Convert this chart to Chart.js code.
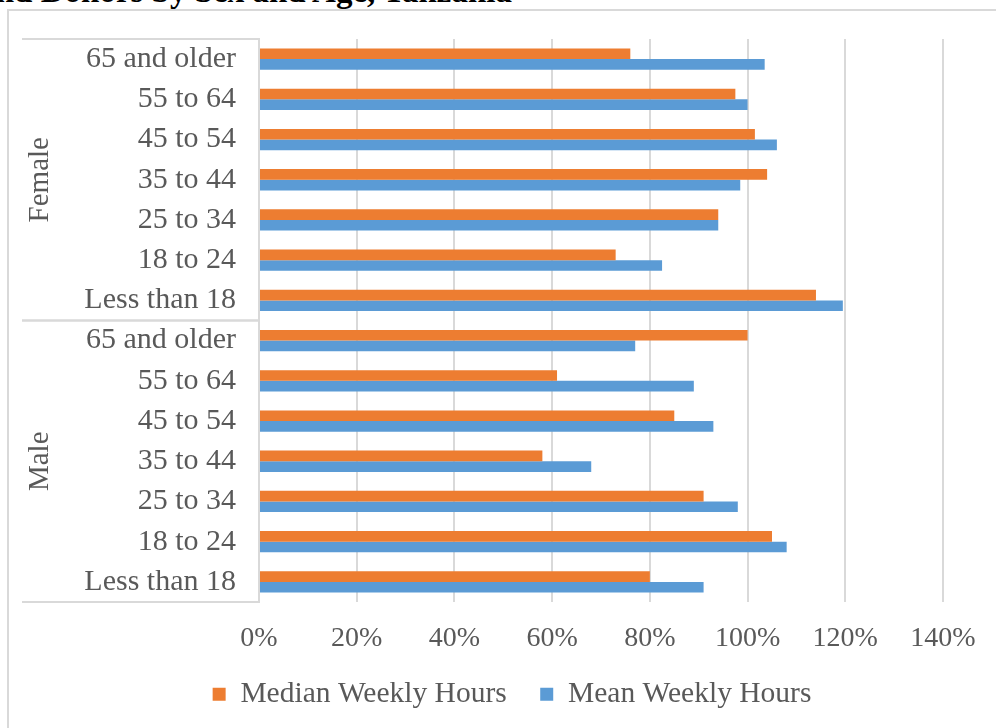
<!DOCTYPE html>
<html>
<head>
<meta charset="utf-8">
<title>Weekly Hours by Sex and Age, Tanzania</title>
<script src="https://cdn.jsdelivr.net/npm/chart.js@4.4.1/dist/chart.umd.min.js"></script>
<style>
  html, body { margin: 0; padding: 0; background: #fff; overflow: hidden; width: 996px; height: 728px; }
  #title {
    position: absolute; top: -25px; right: 484px;
    font: bold 33px "Liberation Serif", "Times New Roman", serif; line-height: 33px;
    white-space: nowrap; color: #000;
  }
  #frame { position: absolute; left: 7px; top: 9px; width: 1006px; height: 740px; border: 2px solid #d9d9d9; }
  #chart { display: block; }
</style>
</head>
<body>
<div id="title">and Donors by Sex and Age, Tanzania</div>
<div id="frame"><canvas id="chart"></canvas></div>
<script>
const sexes = ['Female', 'Male'];
const ageGroups = ['65 and older', '55 to 64', '45 to 54', '35 to 44', '25 to 34', '18 to 24', 'Less than 18'];

// percentages, same order as ageGroups
const femaleMedian = [76, 97.5, 101.5, 104, 94, 73, 114];
const femaleMean = [103.5, 100, 106, 98.5, 94, 82.5, 119.5];
const maleMedian = [100, 61, 85, 58, 91, 105, 80];
const maleMean = [77, 89, 93, 68, 98, 108, 91];

const seriesNames = ['Median Weekly Hours', 'Mean Weekly Hours'];
const seriesColors = ['#ED7D31', '#5B9BD5'];
const xMax = 140;
const xStep = 20;

const SERIF = '"Liberation Serif", "Times New Roman", serif';
const TEXT = '#595959';
const RULE = '#d9d9d9';

const labels = sexes.flatMap(() => ageGroups);

// outer level of the category axis: group names plus the divider lines
const groupAxis = {
    id: 'groupAxis',
    afterDraw(chart) {
        const ctx = chart.ctx;
        const y = chart.scales.y;
        const step = y.getPixelForValue(1) - y.getPixelForValue(0);
        const left = 13;
        const right = y.right;

        ctx.save();
        ctx.strokeStyle = RULE;
        ctx.lineWidth = 2;
        ctx.fillStyle = TEXT;
        ctx.font = '29px ' + SERIF;
        ctx.textAlign = 'center';
        ctx.textBaseline = 'middle';

        sexes.forEach((sex, g) => {
            const first = g * ageGroups.length;
            const last = first + ageGroups.length - 1;
            const top = y.getPixelForValue(first) - step / 2;
            const bottom = y.getPixelForValue(last) + step / 2;

            ctx.beginPath();
            ctx.moveTo(left, top);
            ctx.lineTo(right, top);
            ctx.moveTo(left, bottom);
            ctx.lineTo(right, bottom);
            ctx.stroke();

            ctx.save();
            ctx.translate(31, (top + bottom) / 2);
            ctx.rotate(-Math.PI / 2);
            ctx.fillText(sex, 0, 0);
            ctx.restore();
        });
        ctx.restore();
    }
};

// legend padding is wide for the gap between items; pull the row back up a bit
const legendLift = {
    id: 'legendLift',
    afterLayout(chart) {
        chart.legend.top -= 8;
        chart.legend.bottom -= 8;
    }
};

const chart = new Chart(document.getElementById('chart'), {
    type: 'bar',
    data: {
        labels: labels,
        datasets: [
            {
                label: seriesNames[0],
                data: femaleMedian.concat(maleMedian),
                backgroundColor: seriesColors[0]
            },
            {
                label: seriesNames[1],
                data: femaleMean.concat(maleMean),
                backgroundColor: seriesColors[1]
            }
        ]
    },
    options: {
        indexAxis: 'y',
        responsive: true,
        maintainAspectRatio: false,
        animation: false,
        datasets: {
            bar: { categoryPercentage: 0.53, barPercentage: 1.0 }
        },
        layout: { padding: { top: 28, left: 0, right: 0, bottom: 24 } },
        scales: {
            x: {
                min: 0,
                max: xMax,
                grid: { color: RULE, lineWidth: 2, drawTicks: false },
                border: { display: false },
                ticks: {
                    stepSize: xStep,
                    padding: 23,
                    color: TEXT,
                    font: { family: SERIF, size: 28, lineHeight: 1 },
                    callback: v => v + '%'
                },
                afterFit(scale) {
                    scale.height = 52;
                    scale.paddingLeft = 0;
                    scale.paddingRight = 72;
                }
            },
            y: {
                grid: { display: false, drawTicks: false },
                border: { color: RULE, width: 2 },
                ticks: {
                    padding: 23,
                    color: TEXT,
                    font: { family: SERIF, size: 30 },
                    autoSkip: false
                },
                afterFit(scale) {
                    scale.width = 250;
                    scale.paddingTop = 0;
                    scale.paddingBottom = 0;
                }
            }
        },
        plugins: {
            legend: {
                position: 'bottom',
                labels: {
                    color: TEXT,
                    font: { family: SERIF, size: 29.5 },
                    boxWidth: 13,
                    boxHeight: 13,
                    padding: 33.5
                }
            },
            tooltip: { enabled: false }
        }
    },
    plugins: [groupAxis, legendLift]
});
</script>
</body>
</html>
